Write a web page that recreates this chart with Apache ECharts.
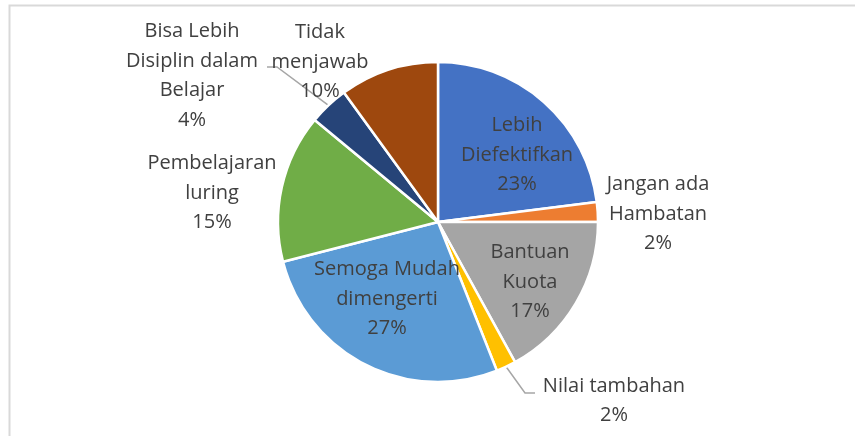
<!DOCTYPE html>
<html>
<head>
<meta charset="utf-8">
<script src="https://cdn.jsdelivr.net/npm/echarts@6/dist/echarts.min.js"></script>
<style>
  html, body { margin: 0; padding: 0; background: #fff; }
  #chart { width: 855px; height: 436px; }
</style>
</head>
<body>
<div id="chart"></div>
<script>
const categories = [
  'Lebih\nDiefektifkan',
  'Jangan ada\nHambatan',
  'Bantuan\nKuota',
  'Nilai tambahan',
  'Semoga Mudah\ndimengerti',
  'Pembelajaran\nluring',
  'Bisa Lebih\nDisiplin dalam\nBelajar',
  'Tidak\nmenjawab'
]
const values = [23, 2, 17, 2, 27, 15, 4, 10]
const colors = ['#4472C4', '#ED7D31', '#A5A5A5', '#FFC000', '#5B9BD5', '#70AD47', '#264478', '#9E480E']
// which labels sit outside with a leader line
const withLine = [false, false, false, true, false, false, true, false]

// label centers, offset from pie center
const cx = 438, cy = 222, r = 160
const labelOffset = [
  [79, -67], [220, -8], [92, 60], [176, 179],
  [-51, 77], [-226, -29], [-246, -146], [-118, -160]
]
// leader line elbow + end, offset from pie center
const linePts = {
  3: [[87, 171], [97, 171]],
  6: [[-161, -155], [-171, -155]]
}

const myChart = echarts.init(document.getElementById('chart'))

const total = values.reduce((a, b) => a + b, 0)
const midAngle = (i) => {
  let acc = 0
  for (let k = 0; k < i; k++) acc += values[k]
  const a = 90 - (acc + values[i] / 2) / total * 360
  return a * Math.PI / 180
}

const option = {
  backgroundColor: '#fff',
  animation: false,
  graphic: [{
    type: 'rect',
    shape: { x: 9.5, y: 5.5, width: 1000, height: 600 },
    style: { fill: 'none', stroke: '#d9d9d9', lineWidth: 2 },
    silent: true
  }],
  series: [{
    type: 'pie',
    center: [cx, cy],
    radius: r,
    startAngle: 90,
    clockwise: true,
    itemStyle: { borderColor: '#fff', borderWidth: 2.5 },
    label: {
      formatter: '{b}\n{d}%',
      fontFamily: 'Open Sans',
      fontSize: 20,
      lineHeight: 29.5,
      color: '#404040',
      align: 'center'
    },
    labelLine: { lineStyle: { color: '#a6a6a6', width: 1.5 } },
    labelLayout: (params) => {
      const i = params.dataIndex
      const o = labelOffset[i]
      const res = { x: cx + o[0], y: cy + o[1], align: 'center', verticalAlign: 'middle' }
      if (linePts[i]) {
        const a = midAngle(i)
        res.labelLinePoints = [
          [cx + r * Math.cos(a), cy - r * Math.sin(a)],
          [cx + linePts[i][0][0], cy + linePts[i][0][1]],
          [cx + linePts[i][1][0], cy + linePts[i][1][1]]
        ]
      }
      return res
    },
    data: categories.map((name, i) => ({
      name,
      value: values[i],
      itemStyle: { color: colors[i] },
      label: { position: withLine[i] ? 'outside' : 'inside' },
      labelLine: { show: withLine[i] }
    }))
  }]
}
myChart.setOption(option)
</script>
</body>
</html>
